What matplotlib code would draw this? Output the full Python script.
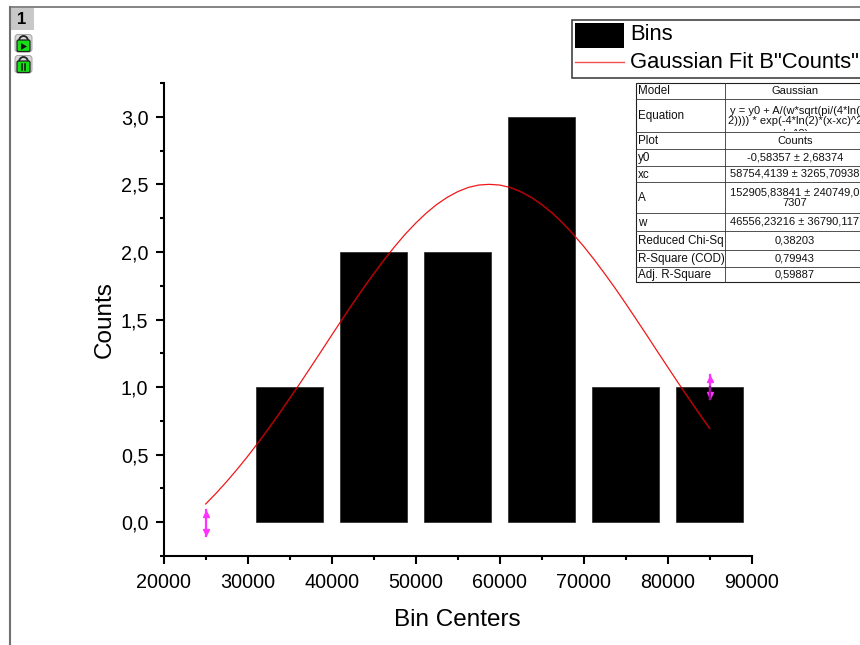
#!/usr/bin/env python3
import matplotlib
matplotlib.use("Agg")
import matplotlib.pyplot as plt
from matplotlib.patches import Rectangle, FancyBboxPatch, Arc, Polygon
from matplotlib.ticker import MultipleLocator

plt.rcParams["font.family"] = ["Liberation Sans", "DejaVu Sans"]

bin_centers = [35000, 45000, 55000, 65000, 75000, 85000]
counts = [1, 2, 2, 3, 1, 1]
bar_width = 8000

fit_x = [25000, 26250, 27500, 28750, 30000, 31250, 32500, 33750, 35000, 36250,
         37500, 38750, 40000, 41250, 42500, 43750, 45000, 46250, 47500, 48750,
         50000, 51250, 52500, 53750, 55000, 56250, 57500, 58750, 60000, 61250,
         62500, 63750, 65000, 66250, 67500, 68750, 70000, 71250, 72500, 73750,
         75000, 76250, 77500, 78750, 80000, 81250, 82500, 83750, 85000]
fit_y = [0.135, 0.215, 0.301, 0.392, 0.488, 0.589, 0.694, 0.803, 0.916, 1.030,
         1.147, 1.265, 1.384, 1.501, 1.617, 1.730, 1.838, 1.942, 2.040, 2.131,
         2.213, 2.287, 2.351, 2.404, 2.446, 2.477, 2.495, 2.500, 2.495, 2.477,
         2.446, 2.404, 2.351, 2.288, 2.214, 2.131, 2.041, 1.943, 1.839, 1.731,
         1.618, 1.502, 1.385, 1.266, 1.148, 1.031, 0.917, 0.804, 0.694]

handle_x = [25000, 85000]
handle_low = [-0.10, 0.91]
handle_high = [0.09, 1.09]

x_ticks = [20000, 30000, 40000, 50000, 60000, 70000, 80000, 90000]
y_ticks = [0.0, 0.5, 1.0, 1.5, 2.0, 2.5, 3.0]
y_labels = ["0,0", "0,5", "1,0", "1,5", "2,0", "2,5", "3,0"]

table_labels = ["Model", "Equation", "Plot", "y0", "xc", "A", "w",
                "Reduced Chi-Sq", "R-Square (COD)", "Adj. R-Square"]
table_values = ["Gaussian",
                "y = y0 + A/(w*sqrt(pi/(4*ln(\n2)))) * exp(-4*ln(2)*(x-xc)^2",
                "Counts", "-0,58357 ± 2,68374", "58754,4139 ± 3265,70938",
                "152905,83841 ± 240749,0\n7307", "46556,23216 ± 36790,117",
                "0,38203", "0,79943", "0,59887"]
table_rows = [83, 99, 132, 149, 166, 182, 213, 231, 250, 267, 282]

W, H = 860, 645
fig = plt.figure(figsize=(W/100, H/100), dpi=100)

# main plot, placed on the same pixels as the reference
ax = fig.add_axes([163.7/W, 1-556/H, (751.7-163.7)/W, (556-83)/H])
bars = ax.bar(bin_centers, counts, width=bar_width, color="black", edgecolor="#222222", lw=0.5)
ax.plot(fit_x, fit_y, color="#f01818", lw=0.9)
# over the black bars the curve shows up dark red
for b in bars:
    dark, = ax.plot(fit_x, fit_y, color="#a00000", lw=0.9, zorder=4)
    dark.set_clip_path(b)
for hx, lo, hi in zip(handle_x, handle_low, handle_high):
    ax.plot([hx, hx], [lo, hi], color="#ff33ff", lw=1.6, zorder=6)
    ax.plot([hx], [hi - 0.03], marker="^", ms=4, color="#ff33ff", zorder=6)
    ax.plot([hx], [lo + 0.03], marker="v", ms=4, color="#ff33ff", zorder=6)
ax.plot([handle_x[1]] * 2, [handle_low[1], counts[-1]], color="#a010a0", lw=1.6, zorder=6)
ax.set_xlim(20000, 90000)
ax.set_ylim(-0.25, 3.25)
ax.set_xticks(x_ticks)
ax.set_yticks(y_ticks, y_labels)
ax.xaxis.set_minor_locator(MultipleLocator(5000))
ax.yaxis.set_minor_locator(MultipleLocator(0.25))
ax.spines[["top", "right"]].set_visible(False)
ax.spines[["left", "bottom"]].set_linewidth(1.5)
ax.tick_params(which="major", length=6, width=1.5, labelsize=14.2)
ax.tick_params(which="minor", length=3, width=1.5)
ax.tick_params(axis="x", which="major", pad=6)
ax.tick_params(axis="y", which="major", pad=5)
ax.set_xlabel("Bin Centers", fontsize=17.5, labelpad=12.5)
ax.set_ylabel("Counts", fontsize=17.5, labelpad=3.5)

# overlay in pixel coordinates for window frame, legend and table
ov = fig.add_axes([0, 0, 1, 1], zorder=5)
ov.set_xlim(0, W)
ov.set_ylim(H, 0)
ov.axis("off")
ov.patch.set_alpha(0)

ov.plot([9.5, 9.5], [7, H], color="#707070", lw=1.5)
ov.plot([9.5, W], [7, 7], color="#707070", lw=1.2)
ov.add_patch(Rectangle((10.5, 8), 23, 22, fc="#c8c8c8", ec="none"))
ov.text(22, 19.5, "1", fontsize=12, fontweight="bold", ha="center", va="center")


def lock(top, pause):
    ov.add_patch(FancyBboxPatch((16, top + 1.5), 15, 15.5, boxstyle="round,pad=1,rounding_size=3",
                                fc="#d8d8d8", ec="#999999", lw=0.6))
    ov.add_patch(Arc((23.5, top + 7), 9, 10, theta1=180, theta2=360, color="#222222", lw=1.3))
    ov.add_patch(FancyBboxPatch((17.5, top + 6.5), 12, 10.5, boxstyle="round,pad=0.5,rounding_size=1.5",
                                fc="#16e016", ec="#222222", lw=0.9))
    if pause:
        ov.plot([22, 22], [top + 9, top + 15], color="#111111", lw=1.1)
        ov.plot([25, 25], [top + 9, top + 15], color="#111111", lw=1.1)
    else:
        ov.add_patch(Polygon([(21, top + 9), (21, top + 16), (27, top + 12.5)], fc="#111111"))


lock(34, False)
lock(55, True)

# legend
ov.add_patch(Rectangle((571.5, 19.5), 300, 58, fc="white", ec="#333333", lw=1.1))
ov.add_patch(Rectangle((575, 22.5), 49, 25, fc="black", ec="none"))
ov.plot([575, 624], [61.5, 61.5], color="#f05050", lw=1.0)
ov.text(630, 35, "Bins", fontsize=15.8, va="center")
ov.text(630, 62, "Gaussian Fit B\"Counts\"", fontsize=15.8, va="center")

# fit results table
ov.add_patch(Rectangle((636, 83), 300, 199, fc="white", ec="#222222", lw=0.8))
for r in table_rows[1:-1]:
    ov.plot([636, W], [r, r], color="#333333", lw=0.6)
ov.plot([725, 725], [83, 282], color="#333333", lw=0.6)
for i, (lab, val) in enumerate(zip(table_labels, table_values)):
    mid = (table_rows[i] + table_rows[i + 1]) / 2
    ov.text(638, mid + 0.5, lab, fontsize=8.4, va="center", color="#111111")
    ov.text(795, mid, val, fontsize=8.0, va="center", ha="center", color="#111111",
            linespacing=1.0, multialignment="center")
# third equation line, cut off by the row border
tail = ov.text(795, 134, "/w^2)", fontsize=8.0, va="center", ha="center", color="#111111", clip_on=True)
tail.set_clip_path(Rectangle((725, 99), 135, 32, transform=ov.transData))

fig.savefig("out.png", dpi=100)
